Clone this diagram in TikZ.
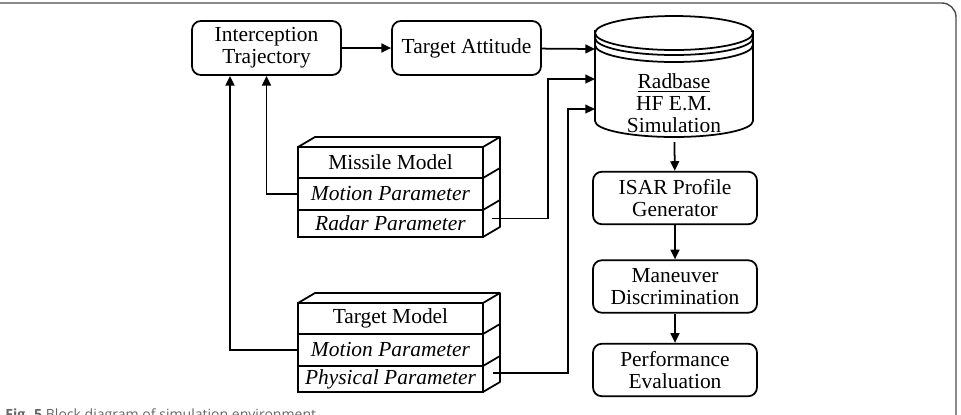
\documentclass[tikz,border=0pt]{standalone}
\usepackage{fontspec}
\setmainfont{Liberation Serif}
\setsansfont{Open Sans}
\usepackage{tikz}
\usepackage{xcolor}
\usetikzlibrary{calc,arrows.meta,positioning}

\begin{document}
\begin{tikzpicture}[x=0.02cm, y=-0.02cm,
    blocknode/.style={draw=black, rounded corners=5pt, line width=1pt, align=center, minimum width=2.98cm, minimum height=1.08cm, inner sep=1pt, font=\fontsize{12.2}{12.6}\selectfont},
    flownode/.style={blocknode, minimum width=3.28cm, minimum height=1.05cm},
    cellnode/.style={draw=black, line width=1pt, minimum width=3.7cm, inner sep=0pt, outer sep=0pt, font=\fontsize{12.2}{12.6}\selectfont},
    arr/.style={-{Triangle[length=5.5pt,width=5pt]}, line width=1pt}]
        \useasboundingbox (0,0) rectangle (961,414);

        % frame and caption
        \draw[gray!60!black, line width=0.8pt, rounded corners=8pt] (-10,3) -| (956,440);
        \node[anchor=base west, inner sep=0pt, text=gray!80!black, font=\sffamily\fontsize{8}{9.6}\selectfont] (cap) at (5,419) {\textbf{Fig. 5} Block diagram of simulation environment};

        \node[blocknode] (it) at (266.5,48) {Interception\\Trajectory};
        \node[blocknode] (ta) at (466.5,48) {Target Attitude};

        % database cylinder
        \draw[line width=1pt] (674,33) ellipse [x radius=1.58cm, y radius=0.34cm];
        \draw[line width=1pt] (595,38) arc [start angle=180, end angle=360, x radius=1.58cm, y radius=0.34cm];
        \draw[line width=1pt] (595,45) arc [start angle=180, end angle=360, x radius=1.58cm, y radius=0.34cm];
        \draw[line width=1pt] (595,30) -- (595,121) arc [start angle=180, end angle=360, x radius=1.58cm, y radius=0.32cm] -- (753,30);
        \node[align=center, inner sep=0pt, font=\fontsize{12.2}{12.6}\selectfont] (db) at (674,103) {\underline{Radbase}\\HF E.M.\\Simulation};
        \coordinate (dbin1) at (595,49);
        \coordinate (dbin2) at (595,79);
        \coordinate (dbin3) at (595,109);
        \coordinate (dbout) at (674.5,142);

        % missile model
        \node[cellnode, minimum height=0.62cm] (mm) at (390.5,162.5) {Missile Model};
        \node[cellnode, minimum height=0.64cm, below=0pt of mm] (mmot) {\textit{Motion Parameter}};
        \node[cellnode, minimum height=0.54cm, below=0pt of mmot] (mrad) {\textit{Radar Parameter}};
        \draw[line width=1pt, line join=round] (mm.north west) -- ++(17,-10) -- ($(mm.north east)+(17,-10)$) -- ($(mrad.south east)+(17,-10)$) -- (mrad.south east);
        \draw[line width=1pt] (mm.north east) -- ++(17,-10);
        \draw[line width=1pt] (mm.south east) -- ++(17,-10);
        \draw[line width=1pt] (mmot.south east) -- ++(17,-10);

        % target model
        \node[cellnode, minimum height=0.62cm] (tm) at (390.5,318.5) {Target Model};
        \node[cellnode, minimum height=0.64cm, below=0pt of tm] (tmot) {\textit{Motion Parameter}};
        \node[cellnode, minimum height=0.52cm, below=0pt of tmot] (tphy) {\textit{Physical Parameter}};
        \draw[line width=1pt, line join=round] (tm.north west) -- ++(17,-10) -- ($(tm.north east)+(17,-10)$) -- ($(tphy.south east)+(17,-10)$) -- (tphy.south east);
        \draw[line width=1pt] (tm.north east) -- ++(17,-10);
        \draw[line width=1pt] (tm.south east) -- ++(17,-10);
        \draw[line width=1pt] (tmot.south east) -- ++(17,-10);

        \node[flownode] (isar) at (675,198) {ISAR Profile\\Generator};
        \node[flownode] (md) at (675,286.5) {Maneuver\\Discrimination};
        \node[flownode] (pe) at (675,370) {Performance\\Evaluation};

        \draw[arr] (it) -- (ta);
        \draw[arr] (ta) -- (dbin1);
        \draw[arr] ($(mrad.east)+(9,-5)$) -- ++(56,0) |- (dbin2);
        \draw[arr] ($(tphy.east)+(10,-6)$) -- ++(75,0) |- (dbin3);
        \draw[arr] (mmot.west) -| (it.south);
        \draw[arr] (tmot.west) -| ($(it.south)+(-36.5,0)$);
        \draw[arr] (dbout) -- (isar);
        \draw[arr] (isar) -- (md);
        \draw[arr] (md) -- (pe);

    \end{tikzpicture}
\end{document}
